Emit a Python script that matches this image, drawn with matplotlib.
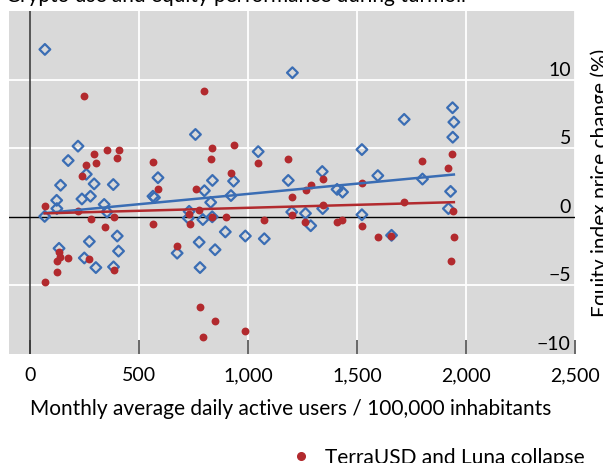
import matplotlib
matplotlib.use("Agg")
import matplotlib.pyplot as plt
import matplotlib.transforms as mtransforms
from matplotlib.lines import Line2D
from matplotlib.ticker import FuncFormatter
import numpy as np

plt.rcParams['font.family'] = ['Lato', 'DejaVu Sans']

# ---------------- data ----------------
# TerraUSD and Luna collapse (red dots)
terra_x = [248, 292, 352, 405, 400, 256, 301, 237, 564, 586, 66, 220, 277, 382, 341, 564,
           133, 138, 121, 174, 121, 66, 271, 382,
           798, 836, 933, 828, 1046, 1184, 921, 760, 776, 727, 731, 832, 896, 1073, 675,
           780, 849, 792, 987, 1200, 1203, 1288, 1264, 1344, 1259, 1342, 1407,
           1432, 1523, 1523, 1595, 1657, 1717, 1800, 1919, 1937, 1942, 1944, 1929]
terra_y = [8.8, 4.6, 4.9, 4.9, 4.3, 3.8, 3.9, 3.0, 4.0, 2.05, 0.8, 0.45, -0.15, -0.05, -0.75, -0.5,
           -2.6, -2.9, -3.25, -3.0, -4.05, -4.75, -3.1, -3.85,
           9.2, 5.0, 5.2, 4.2, 3.9, 4.2, 3.2, 2.0, 0.47, 0.2, -0.55, -0.04, 0.0, -0.2, -2.1,
           -6.55, -7.6, -8.75, -8.35, 1.45, 0.12, 2.3, 1.95, 2.75, -0.4, 0.85, -0.35,
           -0.25, 2.45, -0.7, -1.5, -1.4, 1.1, 4.1, 3.55, 4.6, 0.45, -1.45, -3.2]

# FTX collapse (blue diamonds)
ftx_x = [67, 219, 174, 257, 586, 139, 293, 381, 121, 122, 66, 237, 276, 339, 352, 399,
         271, 405, 132, 248, 301, 382, 563, 570, 674, 758, 799, 828, 836, 933, 921,
         729, 725, 792, 835, 775, 895, 987, 1074, 848, 779, 1046, 1184, 1200, 1203,
         1340, 1263, 1287, 1342, 1408, 1433, 1938, 1944, 1716, 1939, 1522, 1595,
         1800, 1929, 1919, 1522, 1658]
ftx_y = [12.2, 5.15, 4.1, 3.1, 2.85, 2.3, 2.4, 2.35, 1.2, 0.6, 0.03, 1.3, 1.5, 0.9, 0.35, -1.4,
         -1.8, -2.5, -2.3, -3.0, -3.7, -3.65, 1.5, 1.4, -2.65, 6.0, 1.9, 1.05, 2.65, 2.6, 1.55,
         0.4, -0.1, -0.2, 0.0, -1.85, -1.1, -1.4, -1.6, -2.4, -3.7, 4.75, 2.65, 0.35, 10.5,
         3.3, 0.25, -0.65, 0.6, 2.0, 1.8, 7.95, 6.9, 7.1, 5.8, 4.9, 3.0,
         2.75, 1.85, 0.6, 0.15, -1.35]

# fitted trend lines (intercept, slope)
terra_trend = (0.221, 0.000435)
ftx_trend = (0.171, 0.001497)

x_ticks = [0, 500, 1000, 1500, 2000, 2500]
y_ticks = [-10, -5, 0, 5, 10]
y_tick_labels = ['\u221210', '\u22125', '0', '5', '10']

x_label = "Monthly average daily active users / 100,000 inhabitants"
y_label = "Equity index price change (%)"
title = "Crypto use and equity performance during turmoil"
legend_label = "TerraUSD and Luna collapse"

# ---------------- style ----------------
RED = '#b22a2e'
BLUE = '#3a6db4'
BG = '#d9d9d9'
FS_TICK = 14
FS = 15

fig = plt.figure(figsize=(6.03, 4.64), dpi=100)
ax = fig.add_axes([8.5 / 603, 109 / 464, (575 - 8.5) / 603, 343 / 464])
ax.set_facecolor(BG)
for s in ax.spines.values():
    s.set_visible(False)

ax.set_xlim(-100, 2500)
ax.set_ylim(-10, 15)

# grid
for xv in x_ticks[1:]:
    ax.axvline(xv, color='white', lw=1.3, zorder=1)
for yv in [-5, 5, 10]:
    ax.axhline(yv, color='white', lw=1.3, zorder=1)
ax.axvline(0, color='#333333', lw=1.1, zorder=2)
ax.axhline(0, color='black', lw=1.0, zorder=2)

# scatter
ax.scatter(ftx_x, ftx_y, marker='D', s=30, facecolors='none', edgecolors=BLUE,
           linewidths=1.6, zorder=3)
ax.scatter(terra_x, terra_y, marker='o', s=32, color=RED, linewidths=0, zorder=4)

# trend lines
fx = np.array([min(ftx_x), max(ftx_x)])
ax.plot(fx, ftx_trend[0] + ftx_trend[1] * fx, color=BLUE, lw=1.8, zorder=5)
tx = np.array([min(terra_x), max(terra_x)])
ax.plot(tx, terra_trend[0] + terra_trend[1] * tx, color=RED, lw=1.8, zorder=6)

# x axis
ax.set_xticks(x_ticks)
ax.xaxis.set_major_formatter(FuncFormatter(lambda v, p: f"{int(v):,}"))
ax.tick_params(axis='x', direction='in', length=10, width=1.1, color='#404040',
               labelsize=FS_TICK, pad=9)
ax.set_xlabel(x_label, fontsize=FS)
ax.xaxis.set_label_coords(291 / 603, 1 - 415 / 464, transform=fig.transFigure)
ax.xaxis.label.set_verticalalignment('baseline')

# y axis: labels inside, on the right, above the gridline
ax.set_yticks(y_ticks)
ax.tick_params(axis='y', length=0, labelleft=False, labelright=False)
ytrans = mtransforms.offset_copy(ax.get_yaxis_transform(), fig=fig, x=-3, y=1.5, units='points')
for yv, lab in zip(y_ticks, y_tick_labels):
    ax.text(1.0, yv, lab, transform=ytrans, ha='right', va='bottom', fontsize=FS_TICK)

fig.text(601 / 603, 1 - 182.5 / 464, y_label, rotation=90, ha='center', va='center', fontsize=FS)

# partially visible title
fig.text(466 / 603, 1 - 2 / 464, title, ha='right', va='baseline', fontsize=FS)

# legend (bottom)
fig.legend(handles=[Line2D([], [], marker='o', ls='', color=RED, ms=5.5)],
           labels=[legend_label], loc='center left',
           bbox_to_anchor=(282 / 603, 1 - 458 / 464), frameon=False,
           fontsize=FS, handletextpad=0.65, borderaxespad=0, handlelength=1.0)

fig.savefig('out.png', dpi=100)
